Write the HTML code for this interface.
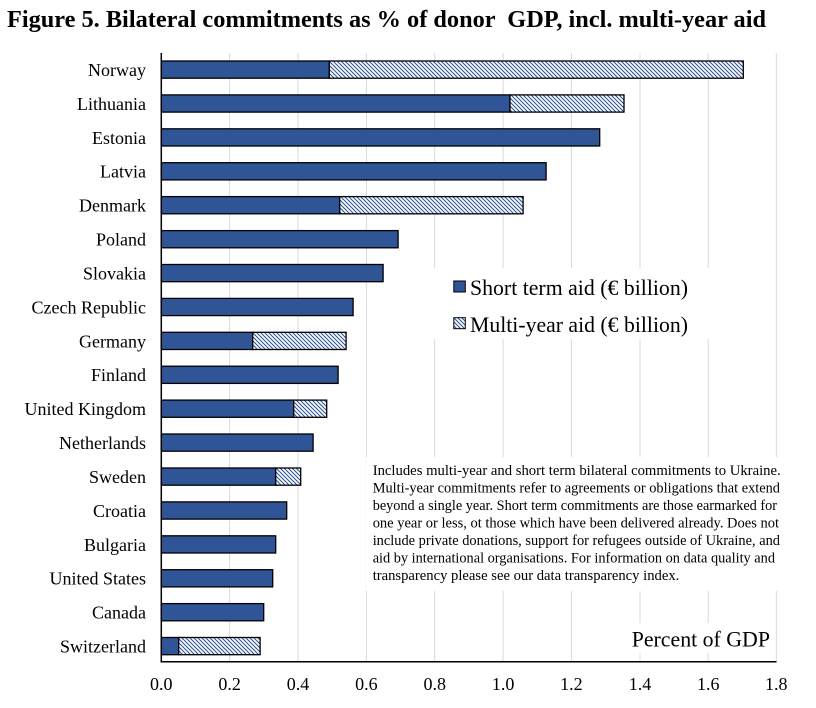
<!DOCTYPE html>
<html>
<head>
<meta charset="utf-8">
<style>
html,body{margin:0;padding:0;background:#fff;}
svg{display:block;}
text{font-family:"Liberation Serif","Times New Roman",serif;fill:#000;}
</style>
</head>
<body>
<svg width="816" height="708" viewBox="0 0 816 708" xmlns="http://www.w3.org/2000/svg">
<defs>
<pattern id="h" patternUnits="userSpaceOnUse" width="4" height="4">
<rect width="4" height="4" fill="#fff"/>
<path d="M-1,-1 L5,5 M-1,3 L1,5 M3,-1 L5,1" stroke="#2F5597" stroke-width="1.1"/>
</pattern>
</defs>
<rect width="816" height="708" fill="#fff"/>
<text x="7" y="27" font-size="24" font-weight="bold" textLength="759" lengthAdjust="spacingAndGlyphs">Figure 5. Bilateral commitments as % of donor &#160;GDP, incl. multi-year aid</text>

<g stroke="#d9d9d9" stroke-width="1">
<line x1="229.6" y1="53" x2="229.6" y2="662"/>
<line x1="298" y1="53" x2="298" y2="662"/>
<line x1="366.4" y1="53" x2="366.4" y2="662"/>
<line x1="434.7" y1="53" x2="434.7" y2="662"/>
<line x1="503.1" y1="53" x2="503.1" y2="662"/>
<line x1="571.4" y1="53" x2="571.4" y2="662"/>
<line x1="640" y1="53" x2="640" y2="662"/>
<line x1="708.2" y1="53" x2="708.2" y2="662"/>
<line x1="776.3" y1="53" x2="776.3" y2="662"/>
</g>

<!-- white boxes -->
<rect x="430" y="268" width="290" height="71" fill="#fff"/>
<rect x="366" y="457" width="424" height="134" fill="#fff"/>
<rect x="626" y="623" width="146" height="30" fill="#fff"/>

<g stroke="#000" stroke-width="1.3">
<rect x="161.3" y="61" width="168" height="17.2" fill="#2F5597"/>
<rect x="329.3" y="61" width="414" height="17.2" fill="url(#h)"/>
<rect x="161.3" y="94.9" width="348.7" height="17.2" fill="#2F5597"/>
<rect x="510" y="94.9" width="114" height="17.2" fill="url(#h)"/>
<rect x="161.3" y="128.8" width="438.4" height="17.2" fill="#2F5597"/>
<rect x="161.3" y="162.7" width="384.8" height="17.2" fill="#2F5597"/>
<rect x="161.3" y="196.6" width="178.4" height="17.2" fill="#2F5597"/>
<rect x="339.7" y="196.6" width="183.4" height="17.2" fill="url(#h)"/>
<rect x="161.3" y="230.6" width="236.8" height="17.2" fill="#2F5597"/>
<rect x="161.3" y="264.5" width="221.8" height="17.2" fill="#2F5597"/>
<rect x="161.3" y="298.4" width="191.8" height="17.2" fill="#2F5597"/>
<rect x="161.3" y="332.3" width="91.4" height="17.2" fill="#2F5597"/>
<rect x="252.7" y="332.3" width="93.4" height="17.2" fill="url(#h)"/>
<rect x="161.3" y="366.2" width="176.8" height="17.2" fill="#2F5597"/>
<rect x="161.3" y="400.1" width="132.4" height="17.2" fill="#2F5597"/>
<rect x="293.7" y="400.1" width="33" height="17.2" fill="url(#h)"/>
<rect x="161.3" y="434" width="151.8" height="17.2" fill="#2F5597"/>
<rect x="161.3" y="468" width="114.4" height="17.2" fill="#2F5597"/>
<rect x="275.7" y="468" width="25" height="17.2" fill="url(#h)"/>
<rect x="161.3" y="501.9" width="125.4" height="17.2" fill="#2F5597"/>
<rect x="161.3" y="535.8" width="114.4" height="17.2" fill="#2F5597"/>
<rect x="161.3" y="569.7" width="111.4" height="17.2" fill="#2F5597"/>
<rect x="161.3" y="603.6" width="102.4" height="17.2" fill="#2F5597"/>
<rect x="161.3" y="637.5" width="17.4" height="17.2" fill="#2F5597"/>
<rect x="178.7" y="637.5" width="81.4" height="17.2" fill="url(#h)"/>
</g>

<line x1="161.3" y1="53" x2="161.3" y2="662.5" stroke="#000" stroke-width="1.5"/>
<line x1="160.5" y1="661.8" x2="776.5" y2="661.8" stroke="#000" stroke-width="1.5"/>

<g font-size="18" text-anchor="end">
<text x="146" y="76">Norway</text>
<text x="146" y="109.9">Lithuania</text>
<text x="146" y="143.8">Estonia</text>
<text x="146" y="177.7">Latvia</text>
<text x="146" y="211.6">Denmark</text>
<text x="146" y="245.6">Poland</text>
<text x="146" y="279.5">Slovakia</text>
<text x="146" y="313.4">Czech Republic</text>
<text x="146" y="347.3">Germany</text>
<text x="146" y="381.2">Finland</text>
<text x="146" y="415.1">United Kingdom</text>
<text x="146" y="449">Netherlands</text>
<text x="146" y="483">Sweden</text>
<text x="146" y="516.9">Croatia</text>
<text x="146" y="550.8">Bulgaria</text>
<text x="146" y="584.7">United States</text>
<text x="146" y="618.6">Canada</text>
<text x="146" y="652.5">Switzerland</text>
</g>

<g font-size="18" text-anchor="middle">
<text x="161.3" y="690">0.0</text>
<text x="229.6" y="690">0.2</text>
<text x="298" y="690">0.4</text>
<text x="366.4" y="690">0.6</text>
<text x="434.7" y="690">0.8</text>
<text x="503.1" y="690">1.0</text>
<text x="571.4" y="690">1.2</text>
<text x="640" y="690">1.4</text>
<text x="708.2" y="690">1.6</text>
<text x="776.3" y="690">1.8</text>
</g>

<rect x="453.8" y="281" width="11.5" height="11" fill="#2F5597" stroke="#000" stroke-width="1"/>
<text x="470" y="295" font-size="22" textLength="218" lengthAdjust="spacingAndGlyphs">Short term aid (€ billion)</text>
<rect x="453.8" y="317.7" width="11.5" height="11" fill="url(#h)" stroke="#000" stroke-width="1"/>
<text x="470" y="332" font-size="22" textLength="218" lengthAdjust="spacingAndGlyphs">Multi-year aid (€ billion)</text>

<g font-size="14.7">
<text x="372.7" y="475" textLength="408" lengthAdjust="spacingAndGlyphs">Includes multi-year and short term bilateral commitments to Ukraine.</text>
<text x="372.7" y="492.5" textLength="407.3" lengthAdjust="spacingAndGlyphs">Multi-year commitments refer to agreements or obligations that extend</text>
<text x="372.7" y="510" textLength="404.3" lengthAdjust="spacingAndGlyphs">beyond a single year. Short term commitments are those earmarked for</text>
<text x="372.7" y="527.5" textLength="406.3" lengthAdjust="spacingAndGlyphs">one year or less, ot those which have been delivered already. Does not</text>
<text x="372.7" y="545" textLength="407.3" lengthAdjust="spacingAndGlyphs">include private donations, support for refugees outside of Ukraine, and</text>
<text x="372.7" y="562.5" textLength="402.3" lengthAdjust="spacingAndGlyphs">aid by international organisations. For information on data quality and</text>
<text x="372.7" y="580" textLength="306.6" lengthAdjust="spacingAndGlyphs">transparency please see our data transparency index.</text>
</g>

<text x="631.7" y="646.7" font-size="22" textLength="138.3" lengthAdjust="spacingAndGlyphs">Percent of GDP</text>
</svg>
</body>
</html>
